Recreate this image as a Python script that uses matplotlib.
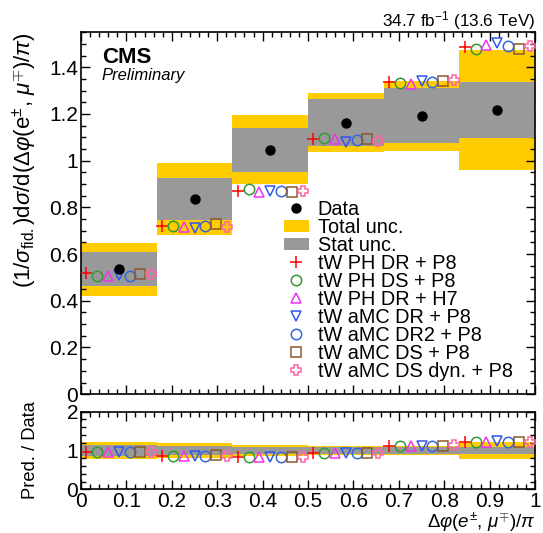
import numpy as np
import matplotlib
matplotlib.use("Agg")
import matplotlib.pyplot as plt
from matplotlib.ticker import MultipleLocator, FormatStrFormatter
from matplotlib.lines import Line2D
from matplotlib.patches import Patch

plt.rcParams['font.family'] = ['Liberation Sans', 'DejaVu Sans']
plt.rcParams['mathtext.fontset'] = 'custom'
plt.rcParams['mathtext.rm'] = 'Liberation Sans'
plt.rcParams['mathtext.it'] = 'Liberation Sans:italic'
plt.rcParams['mathtext.bf'] = 'Liberation Sans:bold'

# ---------------- data ----------------
bin_edges = [0.0, 1/6, 2/6, 3/6, 4/6, 5/6, 1.0]
data_vals = [0.535, 0.836, 1.046, 1.163, 1.193, 1.217]
stat_unc = [0.072, 0.089, 0.095, 0.102, 0.117, 0.118]
total_unc = [0.113, 0.155, 0.148, 0.125, 0.150, 0.258]

model_names = ["tW PH DR + P8", "tW PH DS + P8", "tW PH DR + H7",
               "tW aMC DR + P8", "tW aMC DR2 + P8", "tW aMC DS + P8",
               "tW aMC DS dyn. + P8"]
ph_dr_p8 = [0.518, 0.720, 0.872, 1.091, 1.336, 1.486]
ph_ds_p8 = [0.507, 0.722, 0.879, 1.096, 1.331, 1.478]
ph_dr_h7 = [0.507, 0.715, 0.867, 1.091, 1.328, 1.496]
amc_dr_p8 = [0.510, 0.711, 0.872, 1.081, 1.341, 1.503]
amc_dr2_p8 = [0.507, 0.720, 0.870, 1.089, 1.336, 1.493]
amc_ds_p8 = [0.515, 0.729, 0.867, 1.091, 1.343, 1.477]
amc_dsdyn_p8 = [0.515, 0.717, 0.870, 1.086, 1.346, 1.491]
model_values = [ph_dr_p8, ph_ds_p8, ph_dr_h7, amc_dr_p8, amc_dr2_p8, amc_ds_p8, amc_dsdyn_p8]

model_colors = ["#ff0000", "#339933", "#ee33ee", "#3355ee", "#3366dd", "#8b5a2b", "#ff66aa"]
model_markers = ["+", "o", "^", "v", "o", "s", "P"]

x_ticks = [0, 0.1, 0.2, 0.3, 0.4, 0.5, 0.6, 0.7, 0.8, 0.9, 1]

# ---------------- figure ----------------
W, H = 543, 533
fig = plt.figure(figsize=(W/100, H/100), dpi=100)
axL, axR = 81, 535
ax = fig.add_axes([axL/W, 1-394.2/H, (axR-axL)/W, (394.2-32)/H])
rax = fig.add_axes([axL/W, 1-489.3/H, (axR-axL)/W, (489.3-411.6)/H])

edges = np.array(bin_edges)
left = edges[:-1]
width = np.diff(edges)
centers = left + width/2
d = np.array(data_vals)
st = np.array(stat_unc)
tot = np.array(total_unc)

yellow = "#ffcc00"
gray = "#999999"

# main panel bands
ax.bar(left, 2*tot, bottom=d-tot, width=width, align='edge', color=yellow, lw=0, zorder=1)
ax.bar(left, 2*st, bottom=d-st, width=width, align='edge', color=gray, lw=0, zorder=2)
ax.plot(centers, d, 'o', color='black', ms=6.5, zorder=5)

# ratio bands
rax.bar(left, 2*tot/d, bottom=1-tot/d, width=width, align='edge', color=yellow, lw=0, zorder=1)
rax.bar(left, 2*st/d, bottom=1-st/d, width=width, align='edge', color=gray, lw=0, zorder=2)


def marker_kw(m, c):
    if m == '+':
        return dict(linestyle='none', marker=m, color=c, ms=8.5, mew=1.1)
    return dict(linestyle='none', marker=m, markerfacecolor='none',
                markeredgecolor=c, ms=7.5, mew=1.1)


nm = len(model_values)
for j, (vals, c, m) in enumerate(zip(model_values, model_colors, model_markers)):
    xs = left + (j+0.5)/nm*width
    v = np.array(vals)
    ax.plot(xs, v, zorder=4, **marker_kw(m, c))
    rax.plot(xs, v/d, zorder=4, **marker_kw(m, c))

# axes cosmetics
for a in (ax, rax):
    a.set_xlim(0, 1)
    a.xaxis.set_major_locator(MultipleLocator(0.1))
    a.xaxis.set_minor_locator(MultipleLocator(0.02))
    a.tick_params(which='both', direction='in', top=True, right=True, width=1)
    a.tick_params(which='major', length=6.5)
    a.tick_params(which='minor', length=3.5)
    for s in a.spines.values():
        s.set_linewidth(1.2)

ax.set_ylim(0, 1.551)
ax.yaxis.set_major_locator(MultipleLocator(0.2))
ax.yaxis.set_minor_locator(MultipleLocator(0.05))
ax.yaxis.set_major_formatter(FormatStrFormatter('%g'))
ax.tick_params(labelbottom=False, labelsize=15, pad=2)

rax.set_ylim(0, 2)
rax.yaxis.set_major_locator(MultipleLocator(1))
rax.yaxis.set_minor_locator(MultipleLocator(0.2))
rax.yaxis.set_major_formatter(FormatStrFormatter('%g'))
rax.set_xticks(x_ticks)
rax.xaxis.set_major_formatter(FormatStrFormatter('%g'))
rax.tick_params(labelsize=15, pad=2)

ax.set_ylabel(r"(1/$\sigma_{\rm fid.}$)d$\sigma$/d($\Delta\varphi$(e$^{\pm}$, $\mu^{\mp}$)/$\pi$)",
              fontsize=16, ha='right', y=1.0)
rax.set_ylabel("Pred. / Data", fontsize=13.2)
rax.set_xlabel(r"$\Delta\varphi(e^{\pm}$, $\mu^{\mp})/\pi$", fontsize=13.5, ha='right', x=1.0, labelpad=0)
ax.yaxis.set_label_coords((39-axL)/(axR-axL), 1.0)
rax.yaxis.set_label_coords((39-axL)/(axR-axL), 0.5)

fig.text(axR/W, 1-26/H, r"34.7 fb$^{-1}$ (13.6 TeV)", ha='right', va='baseline', fontsize=12.3)
ax.text((101.7-axL)/(axR-axL), (394.2-63.3)/362.2, "CMS", fontsize=16, fontweight='bold',
        transform=ax.transAxes, va='baseline')
ax.text((101.7-axL)/(axR-axL), (394.2-80)/362.2, "Preliminary", fontsize=12, style='italic',
        transform=ax.transAxes, va='baseline')

handles = [Line2D([], [], ls='none', marker='o', color='black', ms=6.5),
           Patch(color=yellow, lw=0), Patch(color=gray, lw=0)]
labels = ["Data", "Total unc.", "Stat unc."]
for name, c, m in zip(model_names, model_colors, model_markers):
    handles.append(Line2D([], [], **marker_kw(m, c)))
    labels.append(name)
ax.legend(handles, labels, loc='upper left',
          bbox_to_anchor=((284-axL)/(axR-axL), (394.2-200.0)/362.2),
          frameon=False, fontsize=14.3, borderpad=0, borderaxespad=0, labelspacing=-0.05,
          handlelength=1.24, handleheight=0.62, handletextpad=0.45)

fig.savefig("out.png", dpi=100)
